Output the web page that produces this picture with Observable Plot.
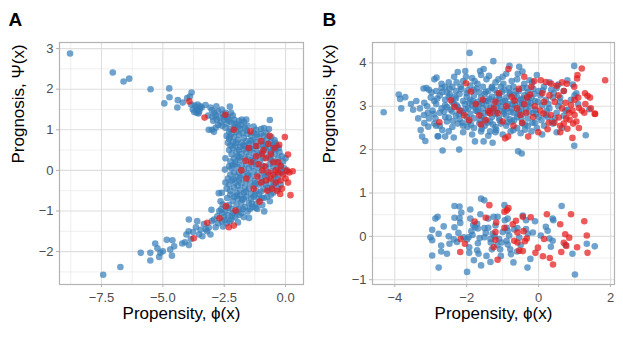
<!DOCTYPE html>
<html><head><meta charset="utf-8">
<script src="https://cdn.jsdelivr.net/npm/d3@7"></script>
<script src="https://cdn.jsdelivr.net/npm/@observablehq/plot@0.6"></script>
<style>body{margin:0;background:#fff}#wrap{display:flex;width:623px;height:351px}svg{display:block}</style>
</head><body><div id="wrap"></div>
<script>
// Panel A: propensity (x) vs prognosis (y)
const aBlue = [
[-8.78,2.88],[-7.04,2.41],[-6.6,2.19],[-6.37,2.26],[-5.5,2.0],[-4.74,2.02],[-4.94,1.65],[-4.73,1.80],[-4.41,1.55],[-4.39,1.73],[-4.19,1.67],[-4.01,1.78],[-3.83,1.92],[-3.90,1.82],[-3.85,1.62],[-3.78,1.50],[-3.72,1.44],[-3.65,1.55],[-3.60,1.47],[-3.55,1.40],[-3.50,1.52],[-3.47,1.58],[-3.70,1.60],[-3.62,1.42],[-3.52,1.45],[-3.26,1.61],[-3.06,1.55],[-3.0,1.48],[-3.15,1.35],
[-2.75,1.45],[-2.6,1.50],[-2.55,1.38],[-2.45,1.42],[-2.35,1.32],[-2.85,1.35],[-2.7,1.30],[-2.27,1.57],[-2.15,1.35],[-2.9,1.42],
[-2.95,1.22],[-2.8,1.25],[-2.65,1.18],[-2.5,1.25],[-2.4,1.15],[-2.3,1.22],[-2.2,1.18],[-2.1,1.25],[-2.0,1.15],[-1.9,1.22],[-1.8,1.12],[-1.7,1.20],[-1.6,1.25],[-1.55,1.10],[-2.6,1.10],[-2.75,1.12],[-2.45,1.05],[-1.3,1.08],[-0.64,1.24],[-1.2,1.0],[-1.0,1.02],[-0.88,1.04],[-0.68,1.02],[-3.0,1.0],[-3.13,1.0],[-2.92,0.95],[-2.85,1.05],[-1.65,1.05],[-1.85,1.02],[-2.05,1.05],[-2.25,1.02],[-2.3,0.95],
[-2.4,0.85],[-2.3,0.78],[-2.2,0.9],[-2.15,0.7],[-2.1,0.82],[-2.0,0.95],[-1.95,0.75],[-1.9,0.88],[-1.8,0.68],[-1.75,0.92],[-1.7,0.8],[-1.6,0.72],[-1.55,0.9],[-1.5,0.65],[-1.4,0.85],[-1.35,0.75],[-1.3,0.92],[-1.2,0.7],[-1.15,0.82],[-1.1,0.6],[-1.0,0.9],[-0.95,0.72],[-0.9,0.85],[-0.8,0.65],[-0.75,0.78],[-0.6,0.7],[-0.5,0.62],[-0.45,0.75],[-0.35,0.6],[-2.25,0.62],[-2.05,0.6],[-1.85,0.58],[-1.65,0.6],[-1.45,0.55],[-1.25,0.6],[-0.85,0.55],[-0.65,0.55],[-2.35,0.68],
[-2.3,0.5],[-2.2,0.4],[-2.15,0.55],[-2.1,0.3],[-2.0,0.45],[-1.95,0.35],[-1.9,0.5],[-1.85,0.25],[-1.8,0.4],[-1.7,0.52],[-1.65,0.3],[-1.6,0.45],[-1.5,0.35],[-1.45,0.5],[-1.4,0.25],[-1.3,0.42],[-1.25,0.3],[-1.2,0.52],[-1.1,0.38],[-1.05,0.25],[-0.95,0.45],[-0.9,0.3],[-0.8,0.5],[-0.7,0.35],[-0.6,0.45],[-0.55,0.25],[-0.45,0.4],[-0.4,0.52],[-0.3,0.3],[-0.25,0.45],[-0.15,0.35],[-0.1,0.22],[-2.45,0.3],[-2.25,0.22],[-2.05,0.2],[-0.35,0.2],[0.0,0.3],[-0.5,0.55],
[-2.47,0.02],[-2.3,0.1],[-2.25,-0.1],[-2.2,0.05],[-2.1,-0.05],[-2.05,0.15],[-2.0,-0.15],[-1.95,0.08],[-1.9,-0.05],[-1.8,0.12],[-1.75,-0.12],[-1.7,0.02],[-1.6,0.15],[-1.55,-0.08],[-1.5,0.05],[-1.4,-0.15],[-1.35,0.1],[-1.3,-0.02],[-1.2,0.15],[-1.15,-0.1],[-1.1,0.05],[-1.0,-0.18],[-0.95,0.12],[-0.9,-0.05],[-0.8,0.08],[-0.75,-0.12],[-0.65,0.15],[-0.6,-0.02],[-0.5,0.1],[-0.45,-0.15],[-0.35,0.05],[-0.3,-0.1],[-0.2,0.12],[-0.15,-0.05],[-0.05,0.05],[0.05,-0.02],[-2.35,-0.2],[-1.85,-0.18],
[-2.3,-0.35],[-2.25,-0.5],[-2.2,-0.25],[-2.1,-0.42],[-2.05,-0.3],[-2.0,-0.55],[-1.95,-0.38],[-1.9,-0.25],[-1.85,-0.48],[-1.8,-0.32],[-1.7,-0.55],[-1.65,-0.4],[-1.6,-0.25],[-1.5,-0.45],[-1.45,-0.3],[-1.4,-0.58],[-1.3,-0.38],[-1.25,-0.25],[-1.2,-0.5],[-1.1,-0.35],[-1.0,-0.52],[-0.95,-0.28],[-0.9,-0.45],[-0.8,-0.35],[-0.7,-0.5],[-0.65,-0.25],[-0.55,-0.4],[-0.5,-0.55],[-0.4,-0.3],[-0.3,-0.45],[-0.2,-0.35],[-2.4,-0.45],[-2.45,-0.3],[-2.6,-0.55],[-0.6,-0.6],
[-2.72,-0.56],[-2.65,-0.76],[-2.56,-0.84],[-2.38,-0.68],[-2.3,-0.85],[-2.25,-0.6],[-2.2,-0.95],[-2.15,-0.75],[-2.1,-0.65],[-2.0,-0.85],[-1.95,-0.7],[-1.9,-0.95],[-1.85,-0.62],[-1.8,-0.8],[-1.7,-0.7],[-1.65,-0.9],[-1.6,-0.65],[-1.55,-1.01],[-1.5,-0.8],[-1.4,-0.7],[-1.35,-0.9],[-1.3,-0.65],[-1.2,-0.82],[-1.15,-0.95],[-1.1,-0.7],[-0.88,-0.68],[-0.87,-1.01],[-0.64,-0.76],[-0.95,-0.85],[-0.75,-0.65],[-2.59,-1.05],[-2.45,-1.0],[-2.35,-0.92],[-1.25,-0.6],
[-3.02,-0.97],[-2.92,-1.21],[-2.78,-1.13],[-2.7,-1.0],[-2.6,-1.25],[-2.5,-1.15],[-2.4,-1.3],[-2.35,-1.1],[-2.21,-1.21],[-2.15,-1.05],[-2.05,-1.15],[-1.94,-1.28],[-1.9,-1.1],[-1.8,-1.05],[-1.7,-1.15],[-1.49,-1.17],[-2.55,-1.38],[-2.75,-1.3],[-2.85,-1.4],[-3.13,-1.41],[-3.33,-1.32],[-3.06,-1.58],[-3.0,-1.25],
[-3.60,-1.25],[-3.53,-1.58],[-3.46,-1.46],[-3.39,-1.62],[-3.77,-1.52],[-3.86,-1.69],[-3.94,-1.21],[-3.94,-1.84],[-3.95,-1.50],[-4.04,-1.58],[-4.10,-1.77],[-4.21,-1.80],[-4.54,-1.87],[-4.61,-1.72],[-4.63,-2.10],[-4.70,-1.95],[-4.84,-1.71],[-5.00,-1.99],[-5.10,-2.03],[-5.15,-2.13],[-5.22,-1.92],[-5.31,-1.80],[-5.51,-2.22],[-5.51,-2.03],[-5.90,-2.03],[-6.73,-2.38],[-7.43,-2.57],[-3.2,-1.5],[-3.65,-1.4],[-3.25,-1.45],
[-2.28,0.82],[-2.18,0.12],[-2.12,-0.22],[-2.02,0.68],[-1.98,-0.62],[-1.88,0.32],[-1.78,-0.72],[-1.72,0.62],[-1.62,-0.52],[-1.58,0.98],[-1.52,-0.12],[-1.42,0.72],[-1.38,-0.82],[-1.32,0.22],[-1.22,-0.32],[-1.18,0.88],[-1.08,-0.58],[-1.02,0.42],[-0.98,-0.68],[-0.92,0.62],[-0.82,-0.15],[-0.78,0.92],[-0.72,-0.42],[-0.62,0.28],[-0.58,0.82],[-0.48,-0.35],[-0.42,0.68],[-0.32,-0.22],[-0.28,0.55],[-0.18,0.0],[-2.52,1.32],[-2.38,1.28],[-2.22,1.42],[-2.08,1.12],[-1.92,1.08],[-1.78,1.25],[-2.62,-0.95],[-2.48,-1.22],[-2.28,-1.25],[-2.18,-1.12],[-1.98,-1.02],[-1.75,-0.95],[-1.45,-0.95],[-1.22,-0.92],[-3.42,1.55],[-3.58,1.62],[-2.98,1.32],[-2.82,1.58]
];
const aRed = [
[-3.92,1.70],[-3.30,1.30],[-2.45,1.37],[-2.11,1.0],[-1.43,0.96],[-1.50,0.55],[-1.63,0.24],[-0.03,0.82],[0.10,0.39],[-0.26,0.63],[0.29,-0.02],[0.2,-0.61],[-0.22,-0.58],[-1.06,-0.77],[-3.74,-1.67],[-3.19,-1.29],[-2.43,-0.88],[-2.69,-1.18],[-2.31,-1.40],[-2.11,-1.36],[-2.04,-0.99],
[-1.2,0.6],[-1.0,0.72],[-0.9,0.5],[-0.7,0.65],[-0.6,0.4],[-0.5,0.2],[-0.8,0.3],[-1.1,0.15],[-0.95,0.0],[-0.7,-0.05],[-0.5,-0.1],[-0.3,-0.05],[-0.1,-0.1],[0.05,0.0],[0.15,-0.05],[-0.2,0.1],[-0.4,0.0],[-0.6,-0.2],[-0.8,-0.25],[-1.0,-0.3],[-0.4,-0.3],[-0.2,-0.25],[0.0,-0.2],[-0.55,-0.45],[-0.75,-0.5],[-0.35,-0.5],[-1.3,-0.45],[-1.2,0.35],[-0.85,0.1],[-1.4,0.2],[-0.3,0.2],[-1.6,-0.2],[-1.8,0.0],[-0.65,0.85],[-0.45,0.55],[-1.15,-0.15],[-0.95,0.4],[0.1,-0.3],[-0.15,-0.45]
];
// Panel B
const bBlue = [
[-2.9,3.62],[-2.7,3.52],[-2.5,3.55],[-2.35,3.68],[-2.1,3.58],[-1.85,3.65],[-1.7,3.52],[-1.45,3.62],[-1.2,3.55],[-1.0,3.68],[-0.75,3.58],[-0.6,3.62],[-0.4,3.52],[-0.25,3.6],[-0.05,3.72],[0.3,3.55],[0.55,3.5],[-1.6,3.72],[-2.6,3.45],[-1.3,3.45],
[-3.2,3.41],[-3.12,3.42],[-3.05,3.38],[-2.85,3.35],[-2.7,3.42],[-2.55,3.32],[-2.4,3.45],[-2.3,3.35],[-2.15,3.4],[-2.0,3.3],[-1.9,3.48],[-1.8,3.38],[-1.65,3.32],[-1.55,3.45],[-1.4,3.35],[-1.3,3.42],[-1.15,3.3],[-1.05,3.45],[-0.95,3.38],[-0.8,3.32],[-0.7,3.45],[-0.55,3.35],[-0.45,3.42],[-0.3,3.32],[-0.15,3.4],[0.0,3.35],[0.15,3.45],[0.35,3.38],[0.5,3.42],[0.7,3.35],
[-3.18,3.08],[-3.0,3.2],[-2.9,3.12],[-2.75,3.25],[-2.6,3.15],[-2.5,3.22],[-2.4,3.1],[-2.3,3.18],[-2.2,3.28],[-2.1,3.12],[-2.0,3.22],[-1.9,3.15],[-1.8,3.25],[-1.7,3.1],[-1.6,3.2],[-1.5,3.28],[-1.4,3.12],[-1.3,3.22],[-1.2,3.15],[-1.1,3.25],[-1.0,3.1],[-0.9,3.2],[-0.8,3.28],[-0.7,3.12],[-0.6,3.22],[-0.5,3.15],[-0.4,3.25],[-0.3,3.1],[-0.2,3.2],[-0.1,3.12],[0.05,3.25],[0.2,3.15],[0.4,3.2],[0.6,3.1],[0.9,3.15],[1.0,3.25],
[-3.49,2.92],[-3.3,2.95],[-3.1,3.0],[-2.95,2.9],[-2.85,3.05],[-2.7,2.95],[-2.6,3.02],[-2.45,2.92],[-2.35,3.05],[-2.25,2.98],[-2.15,2.9],[-2.05,3.05],[-1.95,2.95],[-1.85,3.02],[-1.75,2.9],[-1.65,3.05],[-1.55,2.95],[-1.45,3.02],[-1.35,2.9],[-1.25,3.05],[-1.15,2.95],[-1.05,3.0],[-0.95,2.9],[-0.85,3.05],[-0.75,2.95],[-0.65,3.02],[-0.55,2.9],[-0.45,3.05],[-0.35,2.95],[-0.25,3.0],[-0.1,2.92],[0.1,3.02],[0.3,2.95],[0.55,3.0],[0.8,2.92],[1.1,3.05],
[-3.19,2.8],[-3.05,2.72],[-2.87,2.72],[-2.75,2.85],[-2.6,2.75],[-2.5,2.74],[-2.4,2.88],[-2.3,2.78],[-2.2,2.7],[-2.1,2.85],[-2.0,2.75],[-1.9,2.82],[-1.8,2.72],[-1.7,2.88],[-1.6,2.78],[-1.5,2.7],[-1.4,2.85],[-1.3,2.75],[-1.2,2.82],[-1.1,2.72],[-1.0,2.88],[-0.9,2.78],[-0.8,2.7],[-0.7,2.85],[-0.6,2.75],[-0.45,2.82],[-0.3,2.72],[-0.15,2.85],[0.0,2.75],[0.2,2.8],[0.45,2.72],[0.7,2.78],
[-3.18,2.61],[-3.07,2.53],[-2.9,2.6],[-2.75,2.55],[-2.55,2.65],[-2.4,2.52],[-2.25,2.6],[-2.1,2.55],[-1.95,2.65],[-1.8,2.5],[-1.65,2.6],[-1.5,2.55],[-1.35,2.65],[-1.2,2.52],[-1.05,2.6],[-0.9,2.55],[-0.75,2.65],[-0.6,2.5],[-0.45,2.6],[-0.3,2.55],[-0.1,2.62],[0.15,2.55],[0.4,2.6],[0.65,2.5],
[-3.28,2.45],[-3.24,2.3],[-2.81,2.31],[-2.5,2.42],[-2.36,2.28],[-2.1,2.4],[-1.85,2.35],[-1.6,2.42],[-1.4,2.32],[-1.2,2.4],[-1.0,2.35],[-0.7,2.45],[-0.5,2.38],[-0.2,2.42],[0.1,2.35],[0.5,2.4],
[-4.31,2.86],[-3.89,3.27],[-3.85,3.17],[-3.71,3.21],[-3.82,2.95],[-2.84,3.66],[-2.25,3.79],[-2.04,3.81],[-1.92,4.23],[-1.63,3.81],[-1.53,3.86],[-1.26,4.04],[-0.81,3.93],[-0.54,3.91],[-0.45,3.8],[-2.67,1.98],[-2.79,2.31],[-2.21,2.0],[-1.77,2.19],[-1.53,2.19],[-1.28,2.16],[-0.57,1.96],[-0.47,1.91],[0.99,3.93],[0.99,2.09],[1.31,2.33],[1.41,2.93],[0.95,3.5],[1.05,3.3],[0.8,3.6],
[-2.82,3.18],[-2.63,2.88],[-2.47,3.27],[-2.38,2.66],[-2.28,3.02],[-2.17,3.45],[-2.12,2.62],[-2.03,2.93],[-1.97,3.37],[-1.88,2.58],[-1.83,3.12],[-1.76,2.97],[-1.72,3.41],[-1.63,2.68],[-1.58,3.07],[-1.52,2.84],[-1.47,3.33],[-1.42,2.62],[-1.37,3.17],[-1.33,2.97],[-1.27,2.58],[-1.22,3.38],[-1.17,2.88],[-1.12,3.08],[-1.08,2.67],[-1.02,3.33],[-0.97,2.83],[-0.93,3.12],[-0.87,2.63],[-0.83,3.42],[-0.78,2.87],[-0.73,3.04],[-0.68,2.68],[-0.63,3.35],[-0.58,2.83],[-0.53,3.08],[-0.48,2.71],[-0.43,3.18],[-0.38,2.58],[-0.33,3.42],[-0.27,2.87],[-0.22,3.07],[-0.17,2.62],[-0.12,3.28],[-0.07,2.82],[-0.02,3.1],[0.08,2.68],[0.12,3.37],[0.22,2.9],[0.27,3.05],[0.37,2.65],[0.42,3.3],[-2.92,2.82],[-2.98,3.32],[-3.08,2.85],[-2.68,3.33],[-2.55,2.98],[-2.33,3.22],[-2.22,2.82],[-1.93,3.08],[-1.68,2.92],[-1.48,3.12],[-1.28,2.9],[-1.08,3.18],[-0.88,2.95],[-0.68,3.25],[-0.48,2.95],[-0.28,3.2],[-1.98,2.52],[-1.58,2.48],[-1.18,2.45],[-0.78,2.42],[-0.38,2.46],[-2.68,2.45],[-2.28,3.55],[-1.78,3.58],[-1.38,3.7],[-0.98,3.52],[-0.58,3.75],[-0.18,3.55],[-1.12,3.62],[-2.02,3.68],[-2.48,3.4],[-2.85,2.55],[-3.35,2.72],[-3.4,3.12],[-3.55,3.05],[-3.15,2.2],[-0.9,3.75],[-1.35,2.42],[-2.6,2.3],[-0.05,2.5],[0.25,2.75],[0.5,2.85],[0.6,3.2],[0.75,2.9],
[-2.96,-0.44],[-3.01,-0.02],[-2.96,-0.09],[-2.96,0.15],[-2.87,0.41],[-2.81,0.45],[-2.78,-0.72],[-2.71,-0.21],[-2.71,-0.35],[-2.78,0.06],[-2.64,0.23],[-2.55,-0.40],[-2.48,-0.17],[-2.34,0.70],[-2.2,0.69],[-2.34,0.43],[-2.2,0.42],[-2.34,0.21],[-2.36,-0.07],[-2.27,-0.13],[-2.23,0.08],[-2.18,0.31],[-1.9,0.62],[-1.9,0.41],[-1.99,-0.82],[-2.08,-0.02],[-1.99,-0.07],[-1.95,-0.02],[-1.93,-0.25],[-1.93,-0.38],[-1.82,0.26],[-1.77,0.21],[-1.87,0.12],[-1.84,0.03],[-1.71,0.29],[-1.69,0.18],[-1.6,0.87],[-1.51,0.83],[-1.62,0.51],[-1.64,-0.04],[-1.69,-0.16],[-1.71,-0.32],[-1.67,-0.40],[-1.6,-0.67],[-1.51,0.19],[-1.47,0.08],[-1.51,-0.02],[-1.4,0.41],[-1.34,-0.06],[-1.33,-0.14],[-1.3,-0.3],[-1.34,-0.59],[-1.28,0.06],[-1.22,0.0],[-1.25,0.45],[-1.14,0.45],[-1.1,-0.06],[-1.07,-0.3],[-1.03,-0.14],[-0.95,0.72],[-0.94,0.37],[-0.86,0.41],[-0.89,0.2],[-0.86,0.13],[-0.89,-0.1],[-0.82,0.02],[-0.86,-0.19],[-0.79,-0.3],[-0.77,-0.41],[-0.68,0.16],[-0.59,0.19],[-0.54,-0.03],[-0.44,0.48],[-0.35,0.37],[-0.35,0.17],[-0.3,0.06],[-0.23,-0.52],[-0.31,-0.72],[-0.16,0.09],[0.06,0.02],[0.2,0.22],[0.25,0.13],[0.39,0.41],[0.41,0.37],[0.3,-0.05],[0.39,-0.1],[0.34,-0.24],[0.64,0.70],[0.94,-0.40],[1.01,-0.88],[1.34,-0.17],[1.56,-0.23],[-1.05,-0.45],[-1.15,-0.2],[-0.6,-0.35],[-0.5,-0.2],[-1.45,-0.45],[-1.8,-0.55],[-2.15,0.55],[-1.2,0.25],[0.75,-0.2],[-0.7,-0.6],[-1.0,0.1],[-1.4,0.2],[-2.5,0.0],[-0.1,0.35]
];
const bRed = [
[-2.44,3.14],[-2.34,2.99],[-2.76,2.63],[-2.07,2.79],[-2.02,3.53],[-1.88,3.34],[-1.93,2.68],[-1.65,2.79],[-1.6,2.58],[-1.47,2.68],[-1.4,2.89],[-1.35,2.84],[-1.2,3.1],[-1.25,2.95],[-1.14,2.84],[-0.93,2.26],[-0.84,3.86],[-0.4,3.68],[-0.12,3.58],[0.06,3.6],[0.2,3.56],[0.35,3.52],[0.5,3.47],[0.65,3.55],[0.78,3.52],[0.99,3.45],[1.07,3.64],[1.2,3.87],[1.08,3.72],[1.85,3.6],[1.29,3.30],[1.36,3.24],[1.43,3.2],[1.1,3.2],[1.0,3.15],[0.9,3.03],[0.75,3.08],[1.12,2.96],[1.2,2.9],[1.56,2.83],[1.27,2.85],[1.12,2.5],[0.96,2.6],[0.8,2.48],[0.94,2.27],[0.6,2.55],[0.77,2.72],[0.86,2.69],[0.44,2.62],[0.56,2.74],[0.28,2.62],[0.34,2.8],[0.14,2.83],[0.04,2.9],[-0.1,3.0],[-0.15,2.75],[-0.32,3.2],[-0.24,3.27],[-0.4,3.05],[-0.35,2.85],[-0.51,2.8],[-0.46,2.62],[-0.75,3.22],[-0.67,3.13],[-0.85,2.3],[-0.01,2.4],[0.6,2.4],[0.25,2.47],[-0.29,2.30],[0.94,2.9],[0.65,2.95],[0.45,3.1],[0.3,3.25],[0.15,3.1],[0.55,3.25],[0.7,3.35],[1.3,3.05],[1.45,2.95],[1.0,2.8],[0.85,2.85],[1.05,2.65],[0.7,2.6],[-0.6,2.95],[-0.9,3.0],[-1.0,2.65],[-0.7,2.55],[-1.1,3.3],[-0.55,3.4],[-1.55,3.15],[-1.75,3.05],[-2.2,2.9],[-0.2,3.45],[0.1,3.3],[1.57,2.82],
[-1.37,0.72],[-1.47,0.43],[-1.78,0.34],[-2.18,-0.36],[-2.17,-0.06],[-2.05,-0.17],[-1.18,0.32],[-1.2,0.1],[-1.2,-0.08],[-1.25,-0.25],[-1.14,-0.54],[-0.95,0.57],[-0.88,0.6],[-0.84,0.65],[-0.95,0.2],[-0.72,0.28],[-0.63,0.36],[-0.59,0.09],[-0.68,-0.1],[-0.59,-0.14],[-0.42,0.12],[-0.38,-0.11],[-0.33,-0.05],[-0.44,0.45],[-0.22,0.44],[-0.54,-0.33],[-0.44,-0.34],[-0.09,-0.38],[-0.02,-0.26],[0.15,-0.06],[0.12,-0.46],[0.31,-0.5],[0.4,-0.65],[0.23,0.51],[0.6,0.28],[0.74,0.05],[0.85,-0.03],[0.7,-0.15],[0.77,-0.22],[0.63,-0.36],[0.9,0.51],[1.27,0.35],[1.34,0.02],[1.36,-0.38],[1.07,-0.25]
];
const aXTicks = [-7.5, -5, -2.5, 0];
const aYTicks = [-2, -1, 0, 1, 2, 3];
const aXMinor = [-8.75, -6.25, -3.75, -1.25];
const aYMinor = [-2.5, -1.5, -0.5, 0.5, 1.5, 2.5];
const bXTicks = [-4, -2, 0, 2];
const bYTicks = [-1, 0, 1, 2, 3, 4];
const bXMinor = [-3, -1, 1];
const bYMinor = [-0.5, 0.5, 1.5, 2.5, 3.5];
const xTitle = "Propensity, \u03D5(x)";
const yTitle = "Prognosis, \u03A8(x)";

function panel(o) {
  return Plot.plot({
    width: o.width, height: 351,
    marginLeft: o.ml, marginRight: o.mr, marginTop: 42, marginBottom: 67,
    style: {fontFamily: "'Liberation Sans', Arial, sans-serif", background: "#fff", overflow: "visible"},
    x: {domain: o.xd}, y: {domain: o.yd},
    marks: [
      Plot.gridX(o.xm, {stroke: "#e4e4e4", strokeOpacity: 1, strokeWidth: 0.6}),
      Plot.gridY(o.ym, {stroke: "#e4e4e4", strokeOpacity: 1, strokeWidth: 0.6}),
      Plot.gridX(o.xt, {stroke: "#dedede", strokeOpacity: 1, strokeWidth: 1.1}),
      Plot.gridY(o.yt, {stroke: "#dedede", strokeOpacity: 1, strokeWidth: 1.1}),
      Plot.axisX(o.xt, {tickSize: 3, tickPadding: 5, fontSize: 13, fill: "#4d4d4d", stroke: "#b3b3b3", label: null, tickFormat: o.xf}),
      Plot.axisY(o.yt, {tickSize: 3, tickPadding: 3, fontSize: 13, fill: "#4d4d4d", stroke: "#b3b3b3", label: null, tickFormat: d3.format("d")}),
      Plot.dot(o.blue, {x: d => d[0], y: d => d[1], r: 3.3, fill: "#377EB8", fillOpacity: 0.72, stroke: "none"}),
      Plot.dot(o.red, {x: d => d[0], y: d => d[1], r: 3.3, fill: "#E41A1C", fillOpacity: 0.72, stroke: "none"}),
      Plot.frame({stroke: "#b3b3b3", strokeWidth: 1.2}),
      Plot.text([xTitle], {frameAnchor: "bottom", dy: 34, fontSize: 17, fill: "#000"}),
      Plot.text([yTitle], {frameAnchor: "left", dx: o.ydx, rotate: -90, fontSize: 17, fill: "#000"}),
      Plot.text([o.letter], {frameAnchor: "top-left", dx: o.ldx, dy: -30, fontSize: 19, fontWeight: "bold", textAnchor: "start", lineAnchor: "top", fill: "#000"})
    ]
  });
}
const wrap = document.getElementById("wrap");
wrap.append(panel({width: 311, ml: 59, mr: 8, xd: [-9.21, 0.73], yd: [-2.81, 3.15], xt: aXTicks, yt: aYTicks, xm: aXMinor, ym: aYMinor, xf: d3.format(".1f"), blue: aBlue, red: aRed, letter: "A", ldx: -51, ydx: -41}));
wrap.append(panel({width: 312, ml: 61, mr: 9, xd: [-4.62, 2.11], yd: [-1.11, 4.47], xt: bXTicks, yt: bYTicks, xm: bXMinor, ym: bYMinor, xf: d3.format("d"), blue: bBlue, red: bRed, letter: "B", ldx: -50, ydx: -43}));
</script></body></html>
